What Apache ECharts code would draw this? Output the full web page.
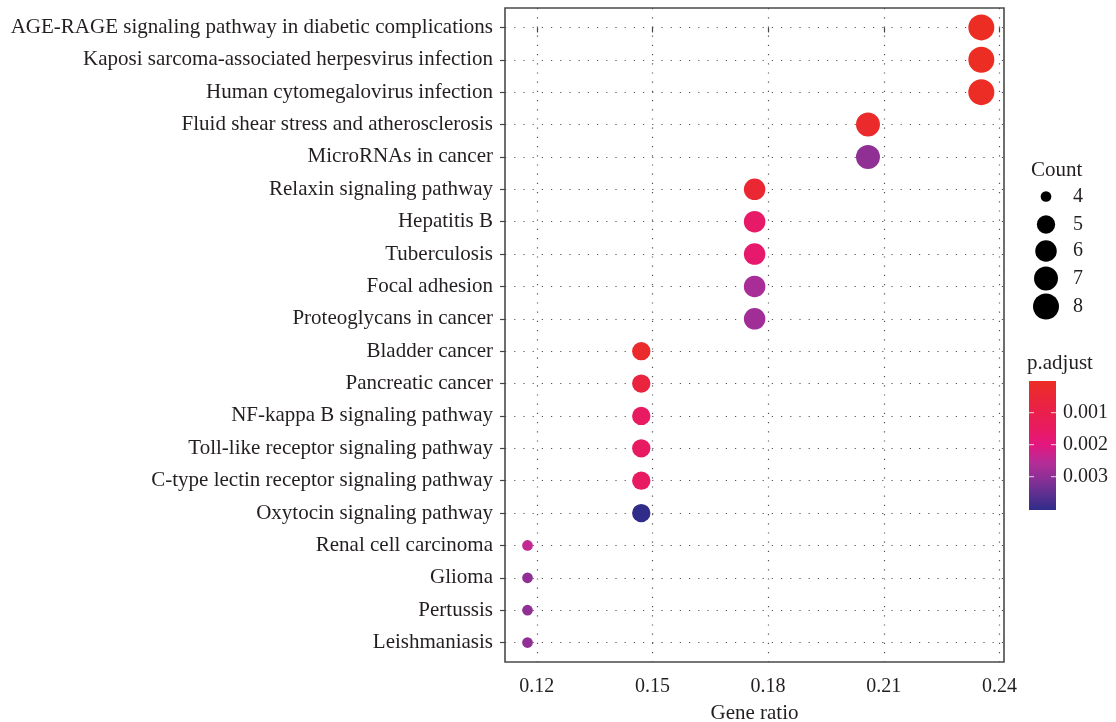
<!DOCTYPE html>
<html><head><meta charset="utf-8">
<script src="https://cdn.jsdelivr.net/npm/echarts@6/dist/echarts.min.js"></script>
<style>html,body{margin:0;padding:0;background:#fff}#c{width:1116px;height:722px}</style>
</head><body><div id="c"></div>
<script>
const categories = [
  'AGE-RAGE signaling pathway in diabetic complications',
  'Kaposi sarcoma-associated herpesvirus infection',
  'Human cytomegalovirus infection',
  'Fluid shear stress and atherosclerosis',
  'MicroRNAs in cancer',
  'Relaxin signaling pathway',
  'Hepatitis B',
  'Tuberculosis',
  'Focal adhesion',
  'Proteoglycans in cancer',
  'Bladder cancer',
  'Pancreatic cancer',
  'NF-kappa B signaling pathway',
  'Toll-like receptor signaling pathway',
  'C-type lectin receptor signaling pathway',
  'Oxytocin signaling pathway',
  'Renal cell carcinoma',
  'Glioma',
  'Pertussis',
  'Leishmaniasis'
];
const counts = [8,8,8,7,7,6,6,6,6,6,5,5,5,5,5,5,4,4,4,4];
const geneRatio = [0.2353,0.2353,0.2353,0.2059,0.2059,0.1765,0.1765,0.1765,0.1765,0.1765,
                   0.1471,0.1471,0.1471,0.1471,0.1471,0.1471,0.1176,0.1176,0.1176,0.1176];
const pAdjust = [0.00001,0.00002,0.00003,0.0002,0.0030,0.0004,0.0016,0.0017,0.0027,0.0028,
                 0.0002,0.0007,0.0015,0.0015,0.0015,0.00404,0.0024,0.0030,0.0030,0.0030];
const xTicks = [0.12,0.15,0.18,0.21,0.24];
const legendCounts = [4,5,6,7,8];
const pTicks = [0.001,0.002,0.003];
const colorStops = ['#EB2D24','#EA2638','#E91F4C','#E81A62','#E2177F','#B82C97','#8D3095','#5E2F90','#2F2C8A'];

const FONT = 'Liberation Serif';
const TXT = '#231F20';
function diam(c){ return 10.7 + 15.3*Math.sqrt((c-4)/4); }

const pMin = Math.min.apply(null, pAdjust), pMax = Math.max.apply(null, pAdjust);
const xMin = 0.11176, xMax = 0.24118;
const catIdx = categories.map((c,i)=>i);

const chart = echarts.init(document.getElementById('c'), null, {renderer:'canvas'});

const data = categories.map((c,i)=>[geneRatio[i], i, pAdjust[i], counts[i]]);

const graphics = [];
// panel frame
graphics.push({type:'rect', shape:{x:505,y:8,width:499,height:654}, style:{fill:null, stroke:'#4a4a4a', lineWidth:1.6}, z:10});
// Count legend
graphics.push({type:'text', x:1031, y:170, style:{text:'Count', font:'21px '+FONT, fill:TXT, textVerticalAlign:'middle'}});
const legY = [196.5,224.5,251,278.5,306.5];
legendCounts.forEach((c,i)=>{
  graphics.push({type:'circle', shape:{cx:1046, cy:legY[i], r:diam(c)/2}, style:{fill:'#000'}});
  graphics.push({type:'text', x:1078, y:legY[i], style:{text:String(c), font:'20px '+FONT, fill:TXT, textAlign:'center', textVerticalAlign:'middle'}});
});
// p.adjust colorbar
graphics.push({type:'text', x:1027, y:363, style:{text:'p.adjust', font:'21px '+FONT, fill:TXT, textVerticalAlign:'middle'}});
const cbX=1029, cbY=381, cbW=27, cbH=129;
graphics.push({type:'rect', shape:{x:cbX,y:cbY,width:cbW,height:cbH},
  style:{fill:new echarts.graphic.LinearGradient(0,0,0,1, colorStops.map((c,i)=>({offset:i/(colorStops.length-1), color:c})))}});
pTicks.forEach(p=>{
  const y = cbY + (p-pMin)/(pMax-pMin)*cbH;
  graphics.push({type:'line', shape:{x1:cbX,y1:y,x2:cbX+5,y2:y}, style:{stroke:'rgba(255,255,255,0.8)', lineWidth:1}});
  graphics.push({type:'line', shape:{x1:cbX+cbW-5,y1:y,x2:cbX+cbW,y2:y}, style:{stroke:'rgba(255,255,255,0.8)', lineWidth:1}});
  graphics.push({type:'text', x:1063, y:y, style:{text:p.toFixed(3), font:'20px '+FONT, fill:TXT, textVerticalAlign:'middle'}});
});

chart.setOption({
  animation:false,
  backgroundColor:'#fff',
  grid:{left:505, right:112, top:8, bottom:60, containLabel:false, outerBoundsMode:'none'},
  xAxis:{
    type:'value', min:xMin, max:xMax,
    name:'Gene ratio', nameLocation:'middle', nameGap:41,
    nameTextStyle:{fontFamily:FONT, fontSize:21, color:TXT},
    axisLine:{show:false},
    axisTick:{show:true, length:5, lineStyle:{color:'#444', width:1.2}, customValues:xTicks},
    axisLabel:{customValues:xTicks, fontFamily:FONT, fontSize:20, color:TXT, margin:15, formatter:v=>v.toFixed(2)},
    splitLine:{show:true, lineStyle:{color:'#555', width:1.2, type:[1.2,8]}}
  },
  yAxis:{
    type:'value', min:-0.6, max:19.6, inverse:true,
    axisLine:{show:false},
    axisTick:{show:true, length:5, lineStyle:{color:'#444', width:1.2}, customValues:catIdx},
    axisLabel:{customValues:catIdx, fontFamily:FONT, fontSize:21, color:TXT, margin:12,
               formatter:v=>categories[Math.round(v)]},
    splitLine:{show:true, lineStyle:{color:'#555', width:1.2, type:[1.2,8]}}
  },
  visualMap:{show:false, type:'continuous', min:pMin, max:pMax, dimension:2, seriesIndex:0, inRange:{color:colorStops}},
  series:[{
    type:'scatter', data:data, clip:false,
    symbolSize:v=>diam(v[3]),
    itemStyle:{opacity:1}
  }],
  graphic:graphics
});
</script></body></html>
